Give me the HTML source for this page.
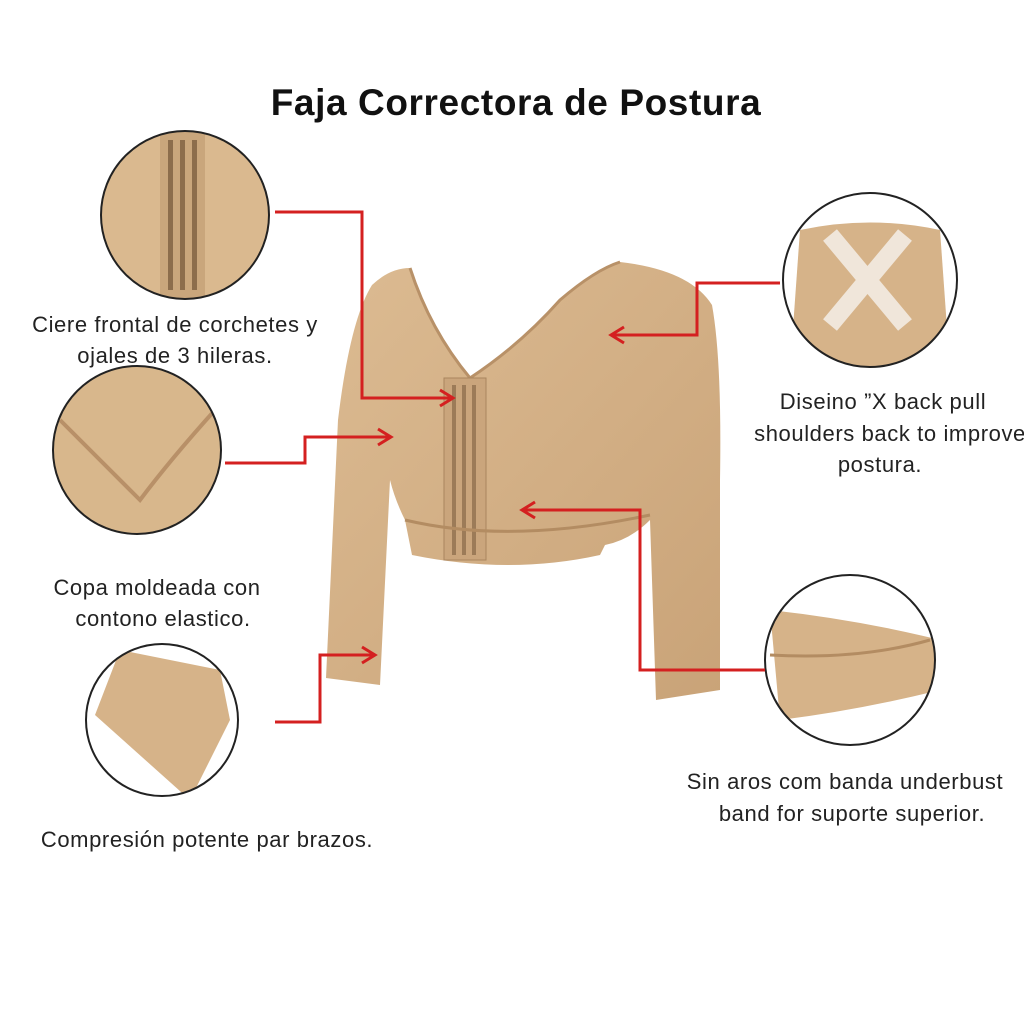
<!DOCTYPE html>
<html><head><meta charset="utf-8"><style>
body{margin:0;background:#fff;}
svg{display:block;font-family:"Liberation Sans",sans-serif;}
</style></head><body>
<svg width="1024" height="1024" viewBox="0 0 1024 1024">
<defs>
<linearGradient id="g" x1="0" y1="0" x2="1" y2="1">
<stop offset="0" stop-color="#dcbb92"/><stop offset="1" stop-color="#c9a378"/></linearGradient>
<clipPath id="c1"><circle cx="185" cy="215" r="84"/></clipPath>
<clipPath id="c2"><circle cx="137" cy="450" r="84"/></clipPath>
<clipPath id="c3"><circle cx="162" cy="720" r="76"/></clipPath>
<clipPath id="c4"><circle cx="870" cy="280" r="87"/></clipPath>
<clipPath id="c5"><circle cx="850" cy="660" r="85"/></clipPath>
</defs>
<rect width="1024" height="1024" fill="#fff"/>
<text x="516" y="115" font-size="37" font-weight="bold" text-anchor="middle" fill="#111" letter-spacing="0.6">Faja Correctora de Postura</text>

<!-- garment -->
<path d="M372,285 Q390,268 410,268 Q430,330 470,378 Q520,345 560,300 Q595,270 620,262 Q690,270 712,305 Q722,360 720,480 L720,690 L656,700 L650,520 Q630,540 605,545 L600,555 Q510,575 412,555 L405,520 Q395,500 390,480 L380,685 L326,678 L338,420 Q350,320 372,285 Z" fill="url(#g)"/>
<path d="M410,268 Q430,330 470,378 Q520,345 560,300 Q595,270 620,262" fill="none" stroke="#b89168" stroke-width="3"/>
<rect x="444" y="378" width="42" height="182" fill="#caa57c" stroke="#a9855e"/>
<g fill="#9c7b58">
<rect x="452" y="385" width="4" height="170"/><rect x="462" y="385" width="4" height="170"/><rect x="472" y="385" width="4" height="170"/></g>
<path d="M405,520 Q510,545 650,515" fill="none" stroke="#b38c62" stroke-width="3"/>

<!-- circles -->
<g clip-path="url(#c1)"><rect x="90" y="120" width="200" height="200" fill="#dab98f"/><rect x="160" y="130" width="45" height="180" fill="#c9a67c"/>
<g fill="#8c6d4c"><rect x="168" y="140" width="5" height="150"/><rect x="180" y="140" width="5" height="150"/><rect x="192" y="140" width="5" height="150"/></g></g>
<circle cx="185" cy="215" r="84" fill="none" stroke="#222" stroke-width="2"/>
<g clip-path="url(#c2)"><rect x="40" y="360" width="200" height="200" fill="#d8b78c"/><path d="M60,420 Q110,470 140,500 Q170,460 215,410" fill="none" stroke="#b89068" stroke-width="4"/></g>
<circle cx="137" cy="450" r="84" fill="none" stroke="#222" stroke-width="2"/>
<g clip-path="url(#c3)"><rect x="80" y="640" width="170" height="160" fill="#fff"/><path d="M120,650 L220,670 L230,720 L190,800 L95,715 Z" fill="#d6b389"/></g>
<circle cx="162" cy="720" r="76" fill="none" stroke="#222" stroke-width="2"/>
<g clip-path="url(#c4)"><rect x="780" y="190" width="180" height="180" fill="#fff"/><path d="M800,230 Q870,215 940,230 L950,370 L790,370 Z" fill="#d6b389"/><path d="M830,235 L905,325 M905,235 L830,325" stroke="#f0e6da" stroke-width="18"/></g>
<circle cx="870" cy="280" r="87" fill="none" stroke="#222" stroke-width="2"/>
<g clip-path="url(#c5)"><rect x="760" y="570" width="180" height="180" fill="#fff"/><path d="M770,610 Q860,620 940,640 L940,690 Q860,710 780,720 Z" fill="#d6b389"/><path d="M770,655 Q860,660 930,640" stroke="#b38c62" stroke-width="3" fill="none"/></g>
<circle cx="850" cy="660" r="85" fill="none" stroke="#222" stroke-width="2"/>

<!-- red connectors -->
<g fill="none" stroke="#d42020" stroke-width="3">
<path d="M275,212 H362 V398 H452"/><path d="M440,390 L453,398 L440,406"/>
<path d="M225,463 H305 V437 H390"/><path d="M378,429 L391,437 L378,445"/>
<path d="M275,722 H320 V655 H374"/><path d="M362,647 L375,655 L362,663"/>
<path d="M780,283 H697 V335 H612"/><path d="M624,327 L611,335 L624,343"/>
<path d="M765,670 H640 V510 H523"/><path d="M535,502 L522,510 L535,518"/>
</g>

<g font-size="22" fill="#222" text-anchor="middle" letter-spacing="0.6">
<text x="175" y="332">Ciere frontal de corchetes y</text>
<text x="175" y="363">ojales de 3 hileras.</text>
<text x="157" y="595">Copa moldeada con</text>
<text x="163" y="626">contono elastico.</text>
<text x="207" y="847">Compresión potente par brazos.</text>
<text x="883" y="409">Diseino ”X back pull</text>
<text x="890" y="441">shoulders back to improve</text>
<text x="880" y="472">postura.</text>
<text x="845" y="789">Sin aros com banda underbust</text>
<text x="852" y="821">band for suporte superior.</text>
</g>
</svg>
</body></html>
